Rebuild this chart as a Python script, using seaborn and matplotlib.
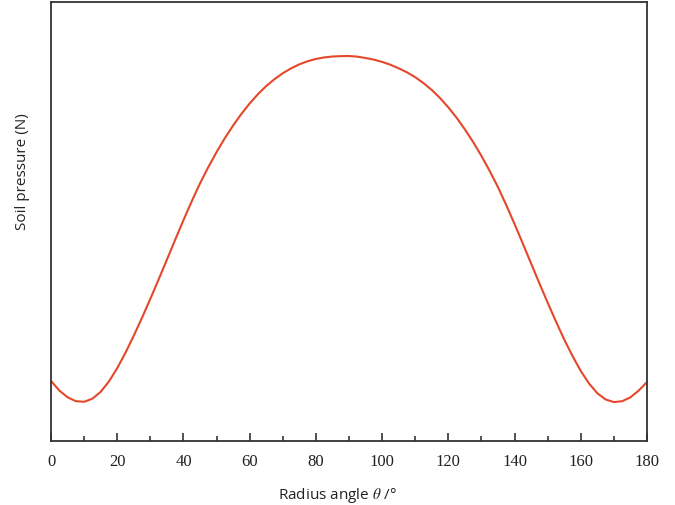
import matplotlib
matplotlib.use("Agg")
import matplotlib.pyplot as plt
import seaborn as sns
import pandas as pd
from matplotlib.ticker import MultipleLocator

# radius angle (deg), every 2.5 degrees
theta = [i * 2.5 for i in range(73)]
# soil pressure (arbitrary units)
pressure = [60, 50.5, 43.7, 39.8, 39.2, 42.3, 49.2, 59.6, 72.9, 88.4,
            105.4, 123.4, 142.2, 161.6, 181.4, 201.3, 220.9, 239.8, 257.7, 273.9,
            289, 302.9, 315.6, 327.2, 337.6, 346.9, 355, 361.9, 367.8, 372.7,
            376.7, 379.8, 382.1, 383.6, 384.5, 384.9, 385,
            384.4, 383, 381.4, 379.1, 376.3, 372.7, 368.7, 363.8, 357.9, 351,
            342.9, 333.6, 323.2, 311.6, 298.9, 285, 269.9, 253.7, 235.8, 216.9,
            197.3, 177.4, 157.6, 138.2, 119.4, 101.4, 84.9, 69.9, 57.4, 47.7,
            41.5, 38.9, 39.8, 43.7, 50.5, 59]

df = pd.DataFrame({"theta": theta, "pressure": pressure})

sns.set_style("white")
plt.rcParams["mathtext.fontset"] = "stix"

fig = plt.figure(figsize=(6.75, 5.06), dpi=100)
ax = fig.add_axes([0.0756, 0.1265, 0.883, 0.8675])

sns.lineplot(data=df, x="theta", y="pressure", color="#e5472b", linewidth=1.5, ax=ax)

ax.set_xlim(0, 180)
ax.set_ylim(0, 439)
ax.set_yticks([])
ax.xaxis.set_major_locator(MultipleLocator(20))
ax.xaxis.set_minor_locator(MultipleLocator(10))
ax.tick_params(axis="x", which="major", direction="in", length=6, width=1.2,
               color="#333333", bottom=True, top=False, pad=9)
ax.tick_params(axis="x", which="minor", direction="in", length=3.5, width=1.2,
               color="#333333", bottom=True, top=False)
for lab in ax.get_xticklabels():
    lab.set_fontfamily("Liberation Serif")
    lab.set_fontsize(12)
    lab.set_color("#222222")

for sp in ax.spines.values():
    sp.set_visible(True)
    sp.set_color("#333333")
    sp.set_linewidth(1.3)

ax.set_xlabel(r"Radius angle $\theta$ /°", fontfamily="Open Sans", fontsize=11,
              color="#222222")
ax.set_ylabel("Soil pressure (N)", fontfamily="Open Sans", fontsize=11,
              color="#222222")
ax.yaxis.set_label_coords(-0.035, 0.615)
ax.xaxis.set_label_coords(0.48, -0.10)

fig.savefig("out.png", dpi=100)
